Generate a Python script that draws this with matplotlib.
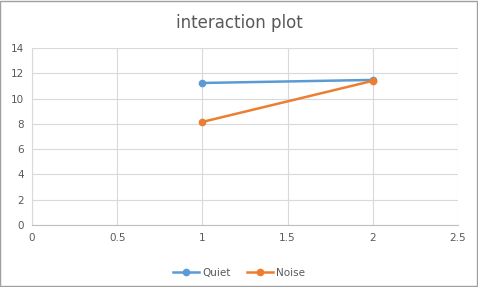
from matplotlib import pyplot as plt
from matplotlib.patches import Rectangle

x_vals = [1, 2]
quiet = [11.23, 11.47]
noise = [8.15, 11.4]
series_names = ["Quiet", "Noise"]

fig = plt.figure(figsize=(4.78, 2.87), dpi=100)
ax = fig.add_axes([0.067, 0.216, 0.891, 0.617])

ax.plot(x_vals, quiet, color='#5b9bd5', marker='o', markersize=4.5, linewidth=1.8, label=series_names[0])
ax.plot(x_vals, noise, color='#ed7d31', marker='o', markersize=4.5, linewidth=1.8, label=series_names[1])

ax.set_xlim(0, 2.5)
ax.set_ylim(0, 14)
ax.set_xticks([0, 0.5, 1, 1.5, 2, 2.5])
ax.set_xticklabels(["0", "0.5", "1", "1.5", "2", "2.5"])
ax.set_yticks(range(0, 15, 2))
ax.grid(color='#d9d9d9', linewidth=0.8)
ax.set_axisbelow(True)
for s in ax.spines.values():
    s.set_visible(False)
ax.spines['left'].set_visible(True)
ax.spines['left'].set_color('#d9d9d9')
ax.spines['bottom'].set_visible(True)
ax.spines['bottom'].set_color('#bfbfbf')
ax.tick_params(length=0, colors='#595959', labelsize=7.5, pad=6)

fig.suptitle("interaction plot", y=0.95, fontsize=12, color='#595959')
fig.legend(loc='lower center', bbox_to_anchor=(0.5, 0.0), ncol=2, frameon=False,
           fontsize=7.5, labelcolor='#595959', handlelength=2.5, columnspacing=1.5,
           handletextpad=0.3)

fig.patches.append(Rectangle((0.001, 0.002), 0.997, 0.995, transform=fig.transFigure,
                             fill=False, edgecolor='#a0a0a0', linewidth=1))

fig.savefig("out.png", dpi=100)
